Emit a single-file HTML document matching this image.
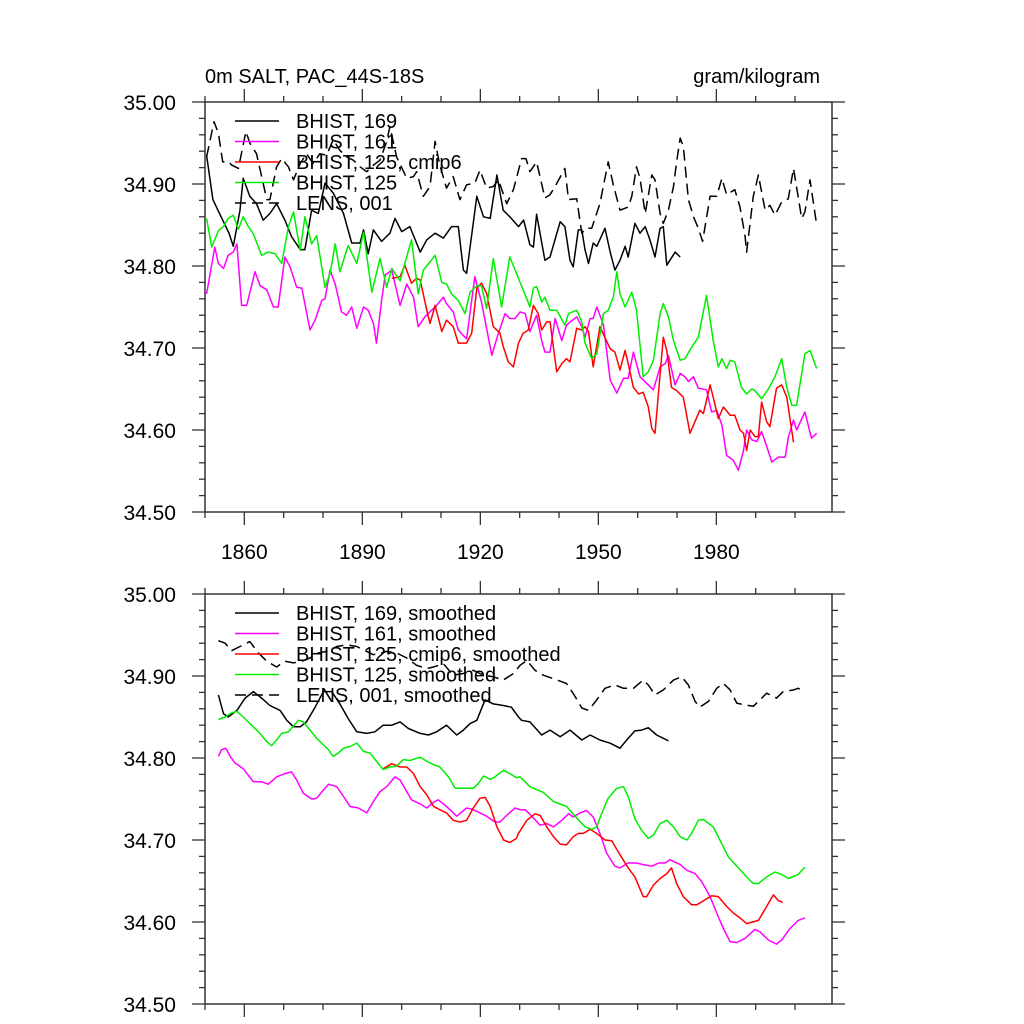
<!DOCTYPE html>
<html><head><meta charset="utf-8">
<style>
html,body{margin:0;padding:0;background:#fff;}
svg{display:block;font-family:"Liberation Sans",sans-serif;}
</style></head>
<body>
<svg id="chart" width="1024" height="1024" viewBox="0 0 1024 1024" xmlns="http://www.w3.org/2000/svg">
<text x="205" y="83" font-size="20">0m SALT, PAC_44S-18S</text>
<text x="820" y="83" font-size="20" text-anchor="end">gram/kilogram</text>
<g id="top"></g>
<g id="bot"></g>
</svg>
<script>
// ---- top panel (annual) ----
const b169Years=[1850.4,1852.0,1854.1,1856.1,1857.2,1858.9,1859.7,1861.4,1863.1,1864.8,1866.5,1868.2,1870.3,1872.0,1874.2,1875.4,1877.1,1878.8,1880.5,1882.6,1885.2,1887.3,1889.4,1890.3,1891.5,1892.8,1894.9,1897.0,1898.3,1900.0,1902.1,1904.7,1906.4,1908.5,1910.6,1912.7,1914.4,1915.7,1916.5,1919.1,1920.8,1922.5,1924.2,1925.8,1927.5,1929.7,1931.0,1932.6,1933.5,1934.3,1936.4,1937.7,1940.3,1941.5,1942.8,1943.6,1944.9,1945.8,1946.6,1947.5,1948.7,1949.6,1951.7,1953.0,1954.2,1955.5,1956.8,1957.6,1959.3,1960.6,1961.9,1963.1,1964.4,1965.7,1966.5,1967.4,1969.5,1970.8];
const b169Vals=[34.935,34.881,34.860,34.840,34.824,34.868,34.907,34.885,34.876,34.856,34.864,34.876,34.856,34.836,34.820,34.820,34.868,34.864,34.901,34.889,34.864,34.828,34.828,34.844,34.815,34.844,34.830,34.840,34.858,34.842,34.848,34.817,34.832,34.840,34.834,34.848,34.848,34.795,34.791,34.885,34.860,34.858,34.911,34.868,34.860,34.848,34.856,34.826,34.823,34.863,34.807,34.811,34.854,34.848,34.807,34.799,34.844,34.844,34.820,34.803,34.828,34.824,34.846,34.817,34.795,34.807,34.824,34.811,34.852,34.840,34.848,34.832,34.811,34.846,34.848,34.801,34.817,34.811];
const b161Years=[1850.4,1852.5,1853.4,1854.7,1855.9,1857.2,1858.1,1859.3,1860.6,1862.7,1864.0,1865.7,1867.4,1868.6,1870.3,1871.6,1873.3,1874.6,1876.7,1878.0,1879.7,1880.5,1881.8,1883.1,1884.7,1886.0,1887.3,1888.6,1890.3,1891.5,1892.8,1893.6,1894.9,1895.8,1897.5,1899.6,1901.3,1903.0,1904.2,1905.9,1907.6,1908.9,1910.6,1911.4,1913.1,1914.4,1916.5,1918.6,1920.3,1922.9,1924.6,1926.3,1927.5,1928.8,1930.1,1931.4,1932.6,1934.3,1935.6,1936.4,1937.7,1939.0,1940.7,1941.9,1944.5,1945.8,1946.6,1947.9,1948.7,1949.6,1951.3,1953.0,1954.7,1956.4,1957.6,1958.9,1960.6,1962.3,1964.0,1965.7,1967.0,1967.8,1969.5,1970.8,1972.0,1972.9,1974.2,1975.4,1977.5,1978.8,1980.1,1981.4,1982.6,1984.3,1985.6,1986.9,1987.7,1989.0,1990.3,1991.5,1992.8,1994.1,1995.8,1997.5,1998.3,1999.6,2000.4,2002.5,2004.2,2005.5];
const b161Vals=[34.766,34.823,34.803,34.797,34.813,34.817,34.827,34.752,34.752,34.793,34.776,34.771,34.750,34.750,34.811,34.799,34.774,34.773,34.722,34.734,34.758,34.760,34.795,34.778,34.744,34.740,34.750,34.724,34.750,34.746,34.730,34.706,34.758,34.789,34.795,34.752,34.778,34.762,34.726,34.738,34.746,34.752,34.762,34.754,34.744,34.722,34.711,34.787,34.756,34.691,34.718,34.742,34.736,34.736,34.744,34.742,34.720,34.740,34.709,34.695,34.695,34.736,34.709,34.728,34.738,34.726,34.713,34.736,34.736,34.750,34.728,34.661,34.645,34.663,34.663,34.695,34.665,34.657,34.649,34.677,34.681,34.691,34.655,34.669,34.665,34.659,34.665,34.651,34.649,34.622,34.624,34.606,34.569,34.563,34.551,34.575,34.600,34.588,34.586,34.598,34.580,34.561,34.567,34.567,34.591,34.612,34.600,34.622,34.590,34.596];
const c6Years=[1897.5,1899.6,1900.8,1902.5,1903.8,1904.7,1906.4,1907.2,1908.5,1910.2,1911.4,1913.1,1914.4,1916.5,1917.8,1919.1,1920.3,1921.6,1923.3,1925.0,1925.8,1927.1,1928.4,1929.7,1930.9,1932.2,1933.5,1934.7,1935.6,1936.9,1937.7,1939.4,1940.7,1941.9,1942.8,1944.5,1945.8,1946.6,1947.5,1948.7,1950.4,1953.0,1954.2,1955.5,1956.8,1957.6,1958.9,1960.2,1961.4,1962.7,1963.6,1964.4,1966.5,1967.4,1968.6,1969.9,1971.6,1973.3,1975.8,1976.7,1978.4,1979.2,1980.5,1981.8,1983.5,1984.7,1986.0,1986.9,1987.7,1988.6,1989.8,1990.7,1991.5,1992.8,1993.6,1995.3,1996.6,1997.9,1999.6];
const c6Vals=[34.785,34.787,34.801,34.779,34.785,34.783,34.746,34.730,34.752,34.720,34.734,34.726,34.706,34.706,34.718,34.773,34.779,34.767,34.726,34.718,34.702,34.683,34.677,34.706,34.718,34.722,34.752,34.742,34.722,34.732,34.732,34.671,34.681,34.687,34.683,34.724,34.722,34.726,34.720,34.677,34.726,34.699,34.695,34.673,34.697,34.681,34.652,34.644,34.646,34.628,34.602,34.596,34.713,34.697,34.652,34.648,34.640,34.596,34.624,34.620,34.655,34.640,34.614,34.628,34.618,34.618,34.600,34.596,34.575,34.600,34.592,34.592,34.634,34.610,34.604,34.651,34.655,34.640,34.585];
const b125Years=[1850.4,1851.7,1853.4,1854.7,1855.9,1857.2,1858.5,1859.7,1861.0,1862.3,1864.4,1866.1,1867.8,1869.5,1871.2,1872.5,1874.2,1875.4,1877.1,1878.4,1880.5,1881.8,1883.1,1884.3,1886.4,1888.6,1890.3,1892.4,1894.5,1896.2,1897.5,1899.6,1900.8,1902.5,1904.2,1905.5,1907.2,1908.5,1910.2,1911.4,1912.7,1914.4,1916.1,1917.4,1919.1,1920.3,1921.6,1923.3,1925.4,1927.5,1930.1,1931.8,1932.6,1933.5,1934.3,1935.6,1936.4,1937.7,1939.4,1941.5,1942.4,1944.5,1945.8,1946.6,1948.3,1949.6,1951.3,1952.5,1953.8,1954.7,1955.5,1956.8,1958.5,1959.7,1961.4,1962.7,1964.0,1965.7,1966.5,1967.8,1969.1,1970.8,1972.0,1973.7,1975.4,1977.5,1979.2,1980.5,1981.4,1982.6,1983.5,1984.7,1986.4,1987.7,1989.0,1989.8,1991.5,1993.2,1994.9,1996.6,1997.9,1999.2,2000.4,2002.5,2003.8,2005.5];
const b125Vals=[34.858,34.823,34.843,34.848,34.858,34.862,34.845,34.860,34.848,34.839,34.813,34.817,34.815,34.803,34.848,34.866,34.819,34.860,34.827,34.837,34.774,34.791,34.827,34.793,34.825,34.803,34.841,34.768,34.809,34.774,34.797,34.782,34.803,34.832,34.766,34.795,34.805,34.813,34.780,34.778,34.766,34.758,34.742,34.768,34.776,34.776,34.748,34.809,34.750,34.811,34.780,34.760,34.750,34.773,34.775,34.756,34.762,34.746,34.746,34.728,34.742,34.746,34.732,34.706,34.687,34.693,34.742,34.746,34.762,34.793,34.766,34.750,34.768,34.746,34.665,34.671,34.685,34.742,34.754,34.738,34.709,34.685,34.687,34.701,34.713,34.764,34.709,34.677,34.687,34.675,34.685,34.683,34.652,34.644,34.650,34.648,34.638,34.650,34.665,34.687,34.652,34.630,34.630,34.693,34.697,34.675];
const lensYears=[1850.4,1852.3,1853.4,1854.5,1856.0,1856.8,1858.5,1860.4,1861.4,1863.1,1865.7,1866.5,1868.2,1869.5,1871.2,1872.5,1874.2,1875.8,1877.5,1879.2,1880.9,1882.6,1884.3,1886.0,1887.7,1889.4,1891.1,1892.8,1894.5,1896.2,1897.0,1898.7,1901.3,1903.0,1903.8,1905.5,1907.2,1908.5,1909.7,1911.4,1913.1,1914.8,1916.5,1918.6,1919.9,1921.6,1923.3,1924.6,1926.7,1928.4,1930.5,1931.6,1932.6,1934.3,1936.4,1937.7,1939.0,1941.5,1942.4,1944.5,1945.8,1947.0,1948.3,1950.4,1952.5,1953.8,1955.5,1957.6,1958.5,1959.7,1960.6,1961.9,1963.6,1964.4,1965.7,1966.5,1967.8,1969.1,1969.9,1970.8,1971.6,1972.9,1974.2,1975.4,1976.5,1978.4,1980.1,1981.4,1982.6,1984.7,1986.0,1987.3,1987.7,1989.4,1990.7,1992.4,1993.6,1994.9,1996.6,1998.3,1999.6,2001.7,2002.5,2003.8,2005.5];
const lensVals=[34.933,34.976,34.962,34.927,34.927,34.923,34.919,34.964,34.950,34.937,34.881,34.881,34.921,34.931,34.921,34.905,34.925,34.937,34.925,34.937,34.935,34.954,34.941,34.933,34.929,34.921,34.915,34.923,34.929,34.952,34.970,34.933,34.907,34.909,34.915,34.885,34.897,34.952,34.923,34.895,34.909,34.881,34.899,34.901,34.917,34.895,34.897,34.905,34.876,34.893,34.931,34.931,34.915,34.927,34.883,34.887,34.897,34.919,34.881,34.882,34.840,34.846,34.846,34.876,34.927,34.899,34.868,34.872,34.885,34.921,34.907,34.864,34.911,34.905,34.864,34.852,34.868,34.897,34.927,34.956,34.946,34.881,34.860,34.846,34.830,34.885,34.885,34.907,34.887,34.893,34.872,34.836,34.817,34.885,34.911,34.868,34.874,34.862,34.878,34.882,34.919,34.858,34.866,34.905,34.850];
// ---- bottom panel (smoothed) ----
const s169Years=[1853.4,1854.7,1855.9,1858.1,1860.2,1862.3,1864.4,1866.5,1869.1,1870.8,1872.5,1874.2,1875.8,1878.0,1880.1,1882.2,1884.3,1886.4,1888.6,1891.1,1893.2,1895.3,1897.5,1899.6,1901.7,1904.7,1906.8,1908.9,1911.4,1914.0,1915.7,1917.4,1919.1,1921.2,1923.3,1925.8,1927.9,1929.7,1930.5,1932.6,1935.6,1937.7,1940.3,1942.8,1945.8,1947.9,1950.4,1953.0,1955.5,1957.2,1959.3,1961.0,1962.7,1964.8,1967.8];
const s169Vals=[34.877,34.854,34.850,34.858,34.873,34.881,34.873,34.864,34.858,34.846,34.838,34.838,34.844,34.862,34.881,34.881,34.866,34.848,34.832,34.830,34.832,34.840,34.840,34.844,34.836,34.830,34.828,34.832,34.840,34.828,34.834,34.842,34.846,34.871,34.866,34.864,34.862,34.850,34.846,34.844,34.828,34.834,34.826,34.834,34.822,34.828,34.822,34.818,34.812,34.822,34.833,34.834,34.837,34.828,34.821];
const s161Years=[1853.4,1854.2,1855.3,1856.4,1857.6,1859.7,1862.3,1864.4,1866.1,1868.2,1870.3,1872.0,1873.3,1875.0,1877.1,1878.4,1880.1,1881.4,1883.5,1885.2,1886.9,1889.0,1891.1,1892.8,1894.5,1896.2,1898.3,1899.6,1901.3,1902.5,1904.7,1906.4,1908.1,1909.3,1911.4,1914.0,1916.5,1918.2,1919.9,1921.6,1923.7,1925.0,1926.7,1928.8,1930.1,1931.4,1933.1,1935.2,1936.9,1938.6,1940.7,1942.4,1943.6,1945.3,1947.0,1948.7,1950.4,1952.1,1954.2,1955.5,1957.6,1959.7,1961.4,1963.6,1965.3,1967.0,1968.2,1970.8,1972.5,1974.6,1976.3,1978.4,1980.1,1981.8,1983.5,1985.2,1987.3,1989.8,1991.1,1993.2,1995.3,1996.6,1998.7,2000.8,2002.5];
const s161Vals=[34.802,34.810,34.812,34.802,34.794,34.787,34.771,34.771,34.768,34.777,34.781,34.783,34.773,34.757,34.750,34.751,34.761,34.768,34.765,34.753,34.741,34.739,34.733,34.747,34.759,34.765,34.777,34.773,34.759,34.749,34.744,34.739,34.746,34.749,34.741,34.729,34.739,34.737,34.733,34.729,34.722,34.722,34.730,34.739,34.737,34.737,34.729,34.718,34.720,34.716,34.724,34.732,34.728,34.733,34.736,34.728,34.708,34.684,34.668,34.666,34.672,34.672,34.670,34.668,34.672,34.672,34.676,34.670,34.663,34.659,34.649,34.631,34.611,34.592,34.576,34.575,34.580,34.591,34.588,34.578,34.573,34.578,34.592,34.602,34.605];
const sc6Years=[1895.3,1897.5,1899.6,1901.3,1903.0,1904.7,1906.4,1908.1,1909.7,1911.4,1913.1,1914.8,1916.5,1918.2,1919.9,1921.2,1922.5,1924.2,1925.9,1927.5,1929.2,1929.7,1931.8,1933.9,1935.2,1936.9,1938.6,1940.3,1941.9,1943.6,1944.9,1946.2,1947.9,1949.6,1951.7,1953.4,1955.5,1957.6,1959.3,1961.4,1962.3,1964.0,1965.7,1967.4,1968.6,1969.9,1971.6,1973.7,1975.0,1977.1,1978.8,1980.5,1982.6,1984.3,1986.0,1987.7,1990.7,1992.8,1994.5,1995.8,1996.9];
const sc6Vals=[34.787,34.793,34.789,34.789,34.781,34.765,34.755,34.741,34.737,34.733,34.724,34.722,34.724,34.739,34.751,34.752,34.741,34.716,34.700,34.697,34.702,34.708,34.724,34.732,34.730,34.716,34.704,34.695,34.694,34.704,34.708,34.708,34.713,34.708,34.700,34.699,34.682,34.666,34.655,34.631,34.631,34.645,34.653,34.659,34.666,34.647,34.631,34.621,34.621,34.627,34.632,34.631,34.619,34.611,34.605,34.598,34.602,34.619,34.633,34.626,34.624];
const s125Years=[1853.4,1855.1,1856.8,1858.1,1859.7,1861.4,1863.6,1865.7,1866.9,1868.2,1869.5,1871.2,1872.5,1873.7,1875.0,1876.7,1878.4,1880.1,1881.4,1882.6,1883.9,1885.2,1886.9,1888.6,1890.3,1892.0,1893.6,1895.3,1897.0,1898.7,1900.4,1902.1,1904.7,1906.4,1908.1,1909.7,1911.9,1913.6,1915.7,1918.2,1919.5,1920.8,1922.5,1923.7,1925.9,1927.5,1929.2,1930.1,1932.6,1936.0,1938.6,1941.9,1944.1,1946.6,1948.3,1949.6,1950.8,1952.5,1954.7,1956.4,1957.6,1959.3,1961.0,1962.7,1964.0,1965.7,1967.4,1969.1,1970.8,1972.5,1973.7,1975.4,1976.7,1979.2,1980.9,1983.1,1985.6,1987.7,1989.4,1990.7,1992.8,1994.9,1996.6,1998.3,2000.8,2002.5];
const s125Vals=[34.847,34.850,34.855,34.857,34.850,34.842,34.832,34.820,34.815,34.822,34.830,34.832,34.839,34.846,34.844,34.834,34.824,34.816,34.810,34.802,34.806,34.812,34.814,34.818,34.808,34.806,34.796,34.786,34.789,34.790,34.798,34.797,34.801,34.796,34.792,34.789,34.777,34.763,34.763,34.763,34.769,34.778,34.774,34.777,34.785,34.781,34.776,34.777,34.765,34.758,34.747,34.741,34.729,34.716,34.713,34.716,34.732,34.751,34.763,34.765,34.753,34.726,34.712,34.702,34.706,34.720,34.724,34.716,34.704,34.700,34.708,34.724,34.725,34.716,34.700,34.679,34.666,34.655,34.647,34.647,34.655,34.661,34.658,34.653,34.658,34.667];
const slensYears=[1853.4,1855.1,1856.8,1858.9,1861.4,1863.6,1865.7,1868.2,1870.3,1872.5,1874.6,1876.7,1878.8,1880.9,1883.5,1886.0,1888.6,1891.1,1892.8,1894.9,1896.2,1898.7,1901.3,1903.8,1906.4,1908.1,1910.6,1913.1,1915.7,1918.2,1920.8,1923.3,1925.8,1928.4,1930.1,1931.8,1933.9,1936.0,1939.0,1941.9,1944.1,1945.8,1947.5,1949.6,1951.7,1954.2,1956.4,1958.9,1961.4,1962.7,1964.4,1966.5,1969.1,1971.2,1972.9,1974.6,1975.8,1978.0,1980.1,1981.8,1983.5,1985.2,1986.9,1989.4,1991.1,1992.8,1995.3,1997.0,1999.6,2000.8,2002.5];
const slensVals=[34.943,34.940,34.931,34.936,34.942,34.928,34.918,34.911,34.918,34.916,34.918,34.922,34.928,34.930,34.936,34.938,34.936,34.930,34.926,34.928,34.930,34.928,34.922,34.913,34.909,34.911,34.915,34.901,34.903,34.907,34.901,34.899,34.895,34.903,34.913,34.919,34.907,34.901,34.896,34.891,34.875,34.861,34.858,34.871,34.885,34.889,34.885,34.885,34.895,34.889,34.877,34.883,34.895,34.899,34.889,34.869,34.862,34.869,34.885,34.891,34.883,34.867,34.865,34.863,34.871,34.879,34.873,34.881,34.883,34.885,34.881];
const yTickLabels=["34.50","34.60","34.70","34.80","34.90","35.00"];
const xTickLabels=["1860","1890","1920","1950","1980"];

const NS='http://www.w3.org/2000/svg';
const X0=205,X1=832,YR0=1850,YR1=2009.4;
function xs(yr){return X0+(yr-YR0)*(X1-X0)/(YR1-YR0);}
function mk(tag,attrs,parent){const e=document.createElementNS(NS,tag);for(const k in attrs)e.setAttribute(k,attrs[k]);parent.appendChild(e);return e;}

function panel(g,top,bottom,showX,series,prefix){
  const ys=v=>bottom-(v-34.5)*(bottom-top)/0.5;
  const ax=mk('g',{},g);
  
  
  const fr=mk('rect',{x:X0,y:top,width:X1-X0,height:bottom-top,fill:'none',stroke:'#333','stroke-width':1.5},ax);
  
  
  // y ticks
  for(let i=0;i<=25;i++){
    const v=34.5+i*0.02, y=ys(v), maj=(i%5===0), L=maj?13:6;
    mk('line',{x1:X0-L,x2:X0,y1:y,y2:y,stroke:'#333','stroke-width':1.3},ax);
    mk('line',{x1:X1,x2:X1+L,y1:y,y2:y,stroke:'#333','stroke-width':1.3},ax);
  }
  yTickLabels.forEach((t,i)=>{
    const tx=mk('text',{x:176,y:ys(parseFloat(t))+8,'font-size':21,'text-anchor':'end'},ax);
    tx.textContent=t;
    
    
  });
  // x ticks
  for(let yr=1850;yr<=2005;yr+=10){
    const x=xs(yr), maj=((yr-1860)%30===0), L=maj?13:6;
    mk('line',{x1:x,x2:x,y1:bottom,y2:bottom+L,stroke:'#333','stroke-width':1.3},ax);
    mk('line',{x1:x,x2:x,y1:top-L,y2:top,stroke:'#333','stroke-width':1.3},ax);
  }
  if(showX){
    xTickLabels.forEach(t=>{
      const tx=mk('text',{x:xs(parseInt(t)),y:bottom+47,'font-size':21,'text-anchor':'middle'},ax);
      tx.textContent=t;
      
      
    });
  }
  series.forEach(s=>{
    const d=s.years.map((yr,i)=>(i?'L':'M')+xs(yr).toFixed(1)+','+ys(s.vals[i]).toFixed(1)).join('');
    const p=mk('path',{d:d,fill:'none',stroke:s.color,'stroke-width':1.5,'stroke-linejoin':'round'},g);
    if(s.dash)p.setAttribute('stroke-dasharray','11,6');
    
    
  });
  // legend
  const lg=mk('g',{},g);
  
  
  series.forEach((s,i)=>{
    const y=top+19+i*20.5;
    const ln=mk('line',{x1:235,x2:279,y1:y,y2:y,stroke:s.color,'stroke-width':1.5},lg);
    if(s.dash)ln.setAttribute('stroke-dasharray','11,6');
    const tx=mk('text',{x:296,y:y+7,'font-size':20},lg);
    tx.textContent=s.label;
    
    
  });
}
panel(document.getElementById('top'),102,512,true,[
 {id:'169',label:'BHIST, 169',color:'#000',years:b169Years,vals:b169Vals},
 {id:'161',label:'BHIST, 161',color:'#ff00ff',years:b161Years,vals:b161Vals},
 {id:'125-cmip6',label:'BHIST, 125, cmip6',color:'#ff0000',years:c6Years,vals:c6Vals},
 {id:'125',label:'BHIST, 125',color:'#00ee00',years:b125Years,vals:b125Vals},
 {id:'lens',label:'LENS, 001',color:'#000',dash:true,years:lensYears,vals:lensVals}
],'top');
panel(document.getElementById('bot'),594,1004,false,[
 {id:'169',label:'BHIST, 169, smoothed',color:'#000',years:s169Years,vals:s169Vals},
 {id:'161',label:'BHIST, 161, smoothed',color:'#ff00ff',years:s161Years,vals:s161Vals},
 {id:'125-cmip6',label:'BHIST, 125, cmip6, smoothed',color:'#ff0000',years:sc6Years,vals:sc6Vals},
 {id:'125',label:'BHIST, 125, smoothed',color:'#00ee00',years:s125Years,vals:s125Vals},
 {id:'lens',label:'LENS, 001, smoothed',color:'#000',dash:true,years:slensYears,vals:slensVals}
],'bottom');
</script>
</body></html>
